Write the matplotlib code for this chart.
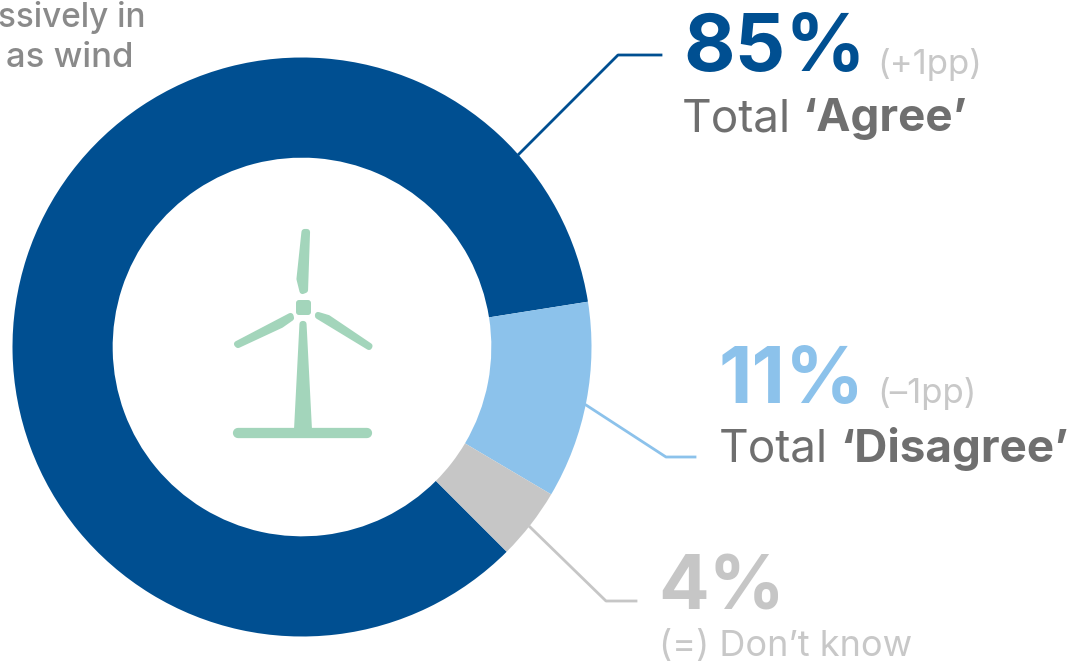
import matplotlib
matplotlib.use("Agg")
import matplotlib.pyplot as plt
from matplotlib.patches import Polygon, FancyBboxPatch

plt.rcParams['font.family'] = ['Inter', 'DejaVu Sans']

values = [85, 11, 4]
colors = ['#004f91', '#8cc2eb', '#c6c6c6']
green = '#a3d5bb'
grey = '#6f6f6f'
light = '#c8c8c8'

W, H = 1080, 662
fig = plt.figure(figsize=(W / 100, H / 100), dpi=100)
ax = fig.add_axes([0, 0, 1, 1])
ax.set_xlim(0, W)
ax.set_ylim(H, 0)
ax.axis('off')

# donut, on its own axes
cx, cy, r = 302, 347, 289.5
pie_ax = fig.add_axes([(cx - r) / W, 1 - (cy + r) / H, 2 * r / W, 2 * r / H])
pie_ax.pie(values, colors=colors, startangle=-45, counterclock=False, radius=1,
           wedgeprops=dict(width=0.346, linewidth=0))
pie_ax.set_xlim(-1, 1)
pie_ax.set_ylim(-1, 1)
pie_ax.set_aspect('equal')

# wind turbine icon, pixel outlines
blades = [
    [(304.5, 232), (307, 232), (305, 290), (302.5, 291), (299.5, 279)],
    [(237, 344), (290.5, 316), (291, 318), (281, 325), (238, 345)],
    [(318, 315), (328, 318), (369.5, 346), (369, 347), (318, 316)],
    [(302.5, 324), (303.5, 324), (309, 431), (297, 431)],
]
for pts in blades:
    ax.add_patch(Polygon(pts, closed=True, facecolor=green, edgecolor=green,
                         lw=4.4, joinstyle='round'))
ax.plot([238, 367], [433, 433], color=green, lw=7.4, solid_capstyle='round')
ax.add_patch(FancyBboxPatch((298, 302), 11, 11, boxstyle='round,pad=2,rounding_size=3',
                            facecolor=green, edgecolor='none'))

# leader lines
ax.plot([519, 618, 661], [154, 55, 55], color=colors[0], lw=2)
ax.plot([586, 666, 695], [405, 457, 457], color=colors[1], lw=2)
ax.plot([530, 606, 636], [527, 601, 601], color=colors[2], lw=2)

# labels
ax.text(683, 71, '85%', fontsize=57, fontweight='bold', color=colors[0], va='baseline')
ax.text(877, 74, '(+1pp)', fontsize=25, color=light, va='baseline')
ax.text(682, 131, 'Total', fontsize=33, color=grey, va='baseline')
ax.text(802, 131, '\u2018Agree\u2019', fontsize=33, fontweight='bold', color=grey, va='baseline')

ax.text(719, 403, '11%', fontsize=56, fontweight='bold', color=colors[1], va='baseline')
ax.text(877, 403, '(\u20131pp)', fontsize=25, color=light, va='baseline')
ax.text(719, 462, 'Total', fontsize=33, color=grey, va='baseline')
ax.text(840, 462, '\u2018Disagree\u2019', fontsize=33, fontweight='bold', color=grey, va='baseline')

ax.text(658, 609, '4%', fontsize=54, fontweight='bold', color=colors[2], va='baseline')
ax.text(659, 656, '(=) Don\u2019t know', fontsize=26, color=light, va='baseline')

# caption at top left, kept just inside the frame
ax.text(146, 27, 'ssively in', fontsize=24, fontweight='medium', color='#8a8a8a', ha='right', va='baseline')
ax.text(133, 67, 'as wind', fontsize=25, fontweight='medium', color='#8a8a8a', ha='right', va='baseline')

fig.savefig('out.png', dpi=100)
